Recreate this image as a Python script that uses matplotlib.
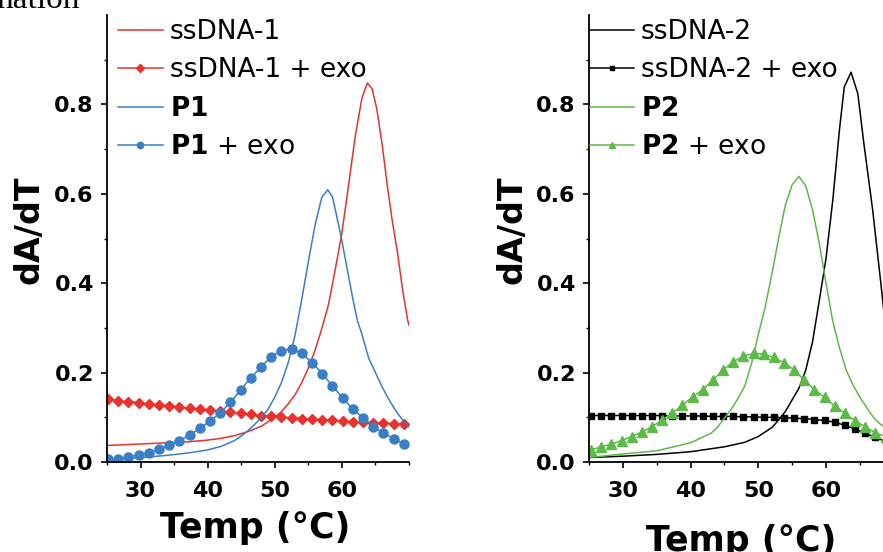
import numpy as np
import matplotlib
matplotlib.use("Agg")
import matplotlib.pyplot as plt
from matplotlib.ticker import MultipleLocator, FormatStrFormatter

plt.rcParams['font.family'] = ['DejaVu Sans']
plt.rcParams['mathtext.fontset'] = 'custom'
plt.rcParams['mathtext.bf'] = 'DejaVu Sans:bold'
plt.rcParams['mathtext.rm'] = 'DejaVu Sans'

# ---- left panel data ----
t_ss1 = [25, 28, 31, 34, 37, 40, 42, 44, 46, 48, 50, 51, 52, 53, 54, 55, 56, 57, 58, 59,
         60, 61, 62, 63, 63.8, 64.5, 65.2, 66, 66.8, 67.5, 68.3, 69, 69.8, 70]
v_ss1 = [0.037, 0.039, 0.041, 0.043, 0.045, 0.049, 0.053, 0.059, 0.068, 0.080, 0.100, 0.113,
         0.130, 0.150, 0.177, 0.210, 0.250, 0.298, 0.352, 0.430, 0.512, 0.620, 0.730, 0.815,
         0.848, 0.835, 0.790, 0.710, 0.615, 0.540, 0.467, 0.390, 0.317, 0.306]

t_p1 = [25, 28, 31, 34, 37, 40, 42, 44, 45, 46, 47, 48, 49, 50, 51, 52, 53, 54, 55, 56, 57,
        57.9, 58.6, 59.2, 59.9, 60.5, 61.1, 61.7, 62.3, 63, 64, 65, 66, 67, 68, 69, 70]
v_p1 = [0.005, 0.008, 0.011, 0.015, 0.020, 0.027, 0.035, 0.048, 0.058, 0.070, 0.084, 0.100,
        0.118, 0.145, 0.178, 0.222, 0.282, 0.362, 0.448, 0.530, 0.592, 0.609, 0.593, 0.552,
        0.503, 0.455, 0.407, 0.360, 0.317, 0.285, 0.232, 0.200, 0.168, 0.140, 0.115, 0.095, 0.078]

t_left_mk = [25.1, 26.6, 28.2, 29.7, 31.2, 32.7, 34.2, 35.8, 37.3, 38.8, 40.3, 41.9, 43.4,
             44.9, 46.4, 48.0, 49.5, 51.0, 52.5, 54.0, 55.6, 57.1, 58.6, 60.1, 61.6, 63.2,
             64.7, 66.2, 67.7, 69.3]
v_ss1_exo = [0.140, 0.137, 0.135, 0.133, 0.130, 0.128, 0.125, 0.122, 0.120, 0.118, 0.116,
             0.113, 0.111, 0.109, 0.107, 0.104, 0.102, 0.100, 0.099, 0.097, 0.096, 0.094,
             0.093, 0.091, 0.090, 0.089, 0.088, 0.087, 0.086, 0.085]
v_p1_exo = [0.006, 0.0075, 0.011, 0.016, 0.021, 0.028, 0.037, 0.048, 0.060, 0.075, 0.091,
            0.110, 0.134, 0.161, 0.188, 0.213, 0.236, 0.249, 0.253, 0.243, 0.222, 0.197,
            0.170, 0.144, 0.119, 0.098, 0.079, 0.065, 0.052, 0.040]

# ---- right panel data ----
t_ss2 = [25, 30, 35, 40, 45, 48, 50, 52, 53, 54, 55, 56, 57, 58, 59, 60, 61, 62, 62.7,
         63.7, 64.7, 65.6, 66.9, 68.1, 68.6, 69.3, 70]
v_ss2 = [0.010, 0.013, 0.017, 0.023, 0.034, 0.044, 0.057, 0.077, 0.094, 0.113, 0.139, 0.165,
         0.205, 0.268, 0.360, 0.455, 0.585, 0.745, 0.839, 0.872, 0.824, 0.712, 0.563,
         0.400, 0.330, 0.270, 0.220]

t_p2 = [25, 30, 35, 40, 43, 44, 45, 46, 47, 48, 49, 50, 51, 52, 53, 54, 55, 56, 57, 58, 59,
        60, 61, 62, 63, 64, 65, 66, 67, 68, 69, 70]
v_p2 = [0.010, 0.018, 0.025, 0.043, 0.064, 0.078, 0.098, 0.118, 0.142, 0.170, 0.220, 0.285,
        0.345, 0.420, 0.500, 0.575, 0.620, 0.639, 0.618, 0.565, 0.490, 0.400, 0.315, 0.255,
        0.205, 0.172, 0.145, 0.122, 0.100, 0.085, 0.075, 0.066]

t_right_mk = [25.3, 26.8, 28.3, 29.8, 31.3, 32.8, 34.3, 35.8, 37.3, 38.8, 40.3, 41.8, 43.3,
              44.8, 46.3, 47.8, 49.3, 50.8, 52.3, 53.8, 55.3, 56.8, 58.3, 59.8, 61.3, 62.8,
              64.3, 65.8, 67.3, 68.8]
v_ss2_exo = [0.104, 0.104, 0.104, 0.104, 0.104, 0.104, 0.104, 0.104, 0.103, 0.103, 0.103,
             0.103, 0.102, 0.102, 0.102, 0.101, 0.101, 0.100, 0.100, 0.099, 0.098, 0.097,
             0.095, 0.093, 0.089, 0.082, 0.074, 0.064, 0.055, 0.046]
v_p2_exo = [0.027, 0.034, 0.040, 0.048, 0.057, 0.067, 0.079, 0.094, 0.110, 0.127, 0.146,
            0.162, 0.183, 0.206, 0.224, 0.237, 0.243, 0.241, 0.234, 0.222, 0.206, 0.183,
            0.162, 0.145, 0.125, 0.109, 0.092, 0.079, 0.065, 0.057]

RED = '#e8322d'
BLUE = '#3a7ec6'
GREEN = '#5cba47'
BLACK = '#000000'

W, H = 883, 552
fig = plt.figure(figsize=(W / 100, H / 100), dpi=100)
axL = fig.add_axes([107 / W, 90 / H, 302 / W, 447 / H])
axR = fig.add_axes([589 / W, 90 / H, 304.7 / W, 447 / H])

axL.plot(t_ss1, v_ss1, color=RED, lw=1.1, label='ssDNA-1')
axL.plot(t_left_mk, v_ss1_exo, color=RED, lw=1.1, marker='D', ms=5.2, label='ssDNA-1 + exo')
axL.plot(t_p1, v_p1, color=BLUE, lw=1.1, label=r'$\mathbf{P1}$')
axL.plot(t_left_mk, v_p1_exo, color=BLUE, lw=1.1, marker='o', ms=6.5, label=r'$\mathbf{P1}$ + exo')

axR.plot(t_ss2, v_ss2, color=BLACK, lw=1.1, label='ssDNA-2')
axR.plot(t_right_mk, v_ss2_exo, color=BLACK, lw=1.1, marker='s', ms=5, label='ssDNA-2 + exo')
axR.plot(t_p2, v_p2, color=GREEN, lw=1.1, label=r'$\mathbf{P2}$')
axR.plot(t_right_mk, v_p2_exo, color=GREEN, lw=1.1, marker='^', ms=7, label=r'$\mathbf{P2}$ + exo')

for ax in (axL, axR):
    ax.set_xlim(25, 70)
    ax.set_ylim(0, 1.0)
    ax.spines['top'].set_visible(False)
    ax.spines['right'].set_visible(False)
    ax.spines['left'].set_linewidth(1.3)
    ax.spines['bottom'].set_linewidth(1.3)
    ax.set_xticks([30, 40, 50, 60])
    ax.xaxis.set_minor_locator(MultipleLocator(5))
    ax.set_yticks([0.0, 0.2, 0.4, 0.6, 0.8])
    ax.set_yticks([0.1, 0.3, 0.5, 0.7, 0.9], minor=True)
    ax.yaxis.set_major_formatter(FormatStrFormatter('%.1f'))
    ax.tick_params(which='major', direction='out', length=4.5, width=1.2,
                   labelsize=16, pad=5)
    ax.tick_params(which='minor', direction='out', length=2.5, width=1.0)
    ax.tick_params(axis='x', which='major', pad=9)
    for lab in ax.get_xticklabels() + ax.get_yticklabels():
        lab.set_fontweight('bold')
    ax.set_ylabel('dA/dT', fontsize=24, fontweight='bold')
    ax.set_xlabel('Temp (°C)', fontsize=25, fontweight='bold')
    ax.xaxis.label.set_va('center')

axL.yaxis.set_label_coords(-0.205, 0.52)
axR.yaxis.set_label_coords(-0.198, 0.52)
axL.xaxis.set_label_coords(0.49, -0.147)
axR.xaxis.set_label_coords(0.50, -0.176)

legL = axL.legend(loc='upper left', bbox_to_anchor=(118 / W, 1 - 19 / H),
                  bbox_transform=fig.transFigure, frameon=False, fontsize=19,
                  handlelength=1.7, handletextpad=0.27, labelspacing=0.47,
                  borderpad=0, borderaxespad=0, markerscale=0.7)
legR = axR.legend(loc='upper left', bbox_to_anchor=(590 / W, 1 - 19 / H),
                  bbox_transform=fig.transFigure, frameon=False, fontsize=19,
                  handlelength=1.65, handletextpad=0.27, labelspacing=0.47,
                  borderpad=0, borderaxespad=0, markerscale=0.7)

fig.text(-0.004, 1 - 8 / H, 'nation', family='Liberation Serif', fontsize=24,
         va='baseline', ha='left')

fig.savefig('out.png', dpi=100)
